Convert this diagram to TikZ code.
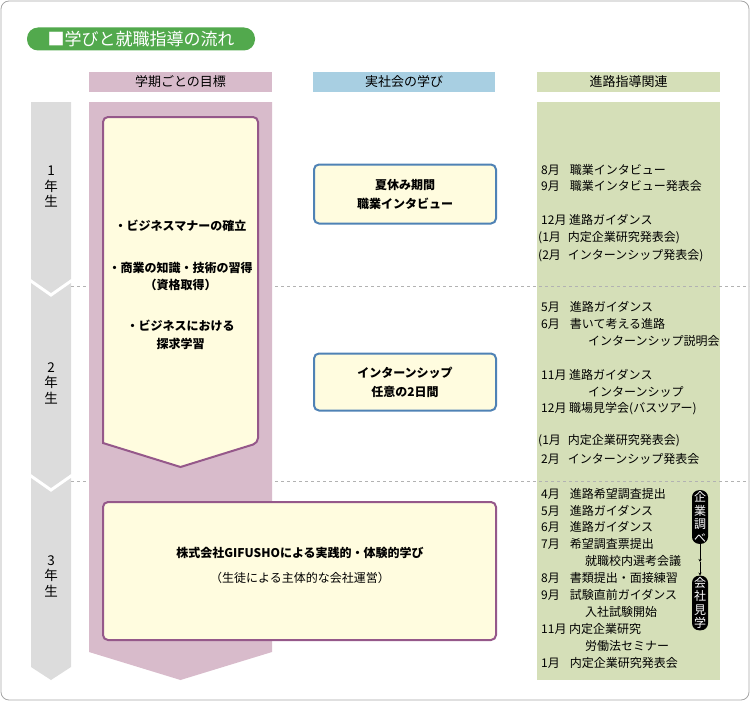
\documentclass[tikz,border=0pt]{standalone}
\usepackage{fontspec}
\setmainfont{Noto Sans CJK JP}
\usetikzlibrary{arrows.meta}
\definecolor{ttl}{HTML}{52A94D}
\definecolor{pinkc}{HTML}{D8BBCB}
\definecolor{bluec}{HTML}{A8CFE2}
\definecolor{greenc}{HTML}{D5DFB8}
\definecolor{grayc}{HTML}{DCDCDC}
\definecolor{boxf}{HTML}{FFFCDF}
\definecolor{purb}{HTML}{95588A}
\definecolor{blub}{HTML}{4F82B5}
\tikzset{
  hdr/.style={font=\fontsize{13}{15}\selectfont},
  yr/.style={font=\fontsize{13.5}{15.5}\selectfont},
  rt/.style={anchor=west,font=\fontsize{12}{14}\selectfont,inner sep=0pt},
  bx/.style={font=\bfseries\fontsize{12}{17}\selectfont,align=center},
  pill/.style={fill=black,text=white,rounded corners=7pt,inner sep=1.5pt,text width=13pt,font=\fontsize{12}{13.5}\selectfont,align=center}
}
\begin{document}
\begin{tikzpicture}[x=1pt,y=-1pt]
\useasboundingbox (0,0) rectangle (750,701);
\draw[gray!70,rounded corners=8pt,line width=0.8pt] (1,1) rectangle (749,700);
% title
\node[fill=ttl,rounded corners=11pt,minimum width=228,minimum height=23,text=white,font=\fontsize{17}{19}\selectfont,inner sep=0pt] (title) at (141,39) {■学びと就職指導の流れ};
% headers
\node[fill=pinkc,minimum width=183,minimum height=20,inner sep=0,hdr] (h1) at (180.5,82) {学期ごとの目標};
\node[fill=bluec,minimum width=182,minimum height=20,inner sep=0,hdr] (h2) at (404,82) {実社会の学び};
\node[fill=greenc,minimum width=183,minimum height=20,inner sep=0,hdr] (h3) at (628.5,82) {進路指導関連};
% gray year column
\fill[grayc] (31,102) -- (71,102) -- (71,279) -- (51,293) -- (31,279) -- cycle;
\fill[grayc] (31,283) -- (51,297) -- (71,283) -- (71,474) -- (51,488) -- (31,474) -- cycle;
\fill[grayc] (31,478) -- (51,492) -- (71,478) -- (71,667) -- (51,680) -- (31,667) -- cycle;
\node[yr,align=center,inner sep=0] (y1) at (51,187) {1\\年\\生};
\node[yr,align=center,inner sep=0] (y2) at (51,383) {2\\年\\生};
\node[yr,align=center,inner sep=0] (y3) at (51,576) {3\\年\\生};
% green column
\fill[greenc] (537,102) rectangle (720,680);
% dashed separators
\draw[gray!60,dashed,line width=0.5pt] (71,286) -- (749,286);
\draw[gray!60,dashed,line width=0.5pt] (71,481) -- (749,481);
% pink column
\fill[pinkc] (89,102) -- (272,102) -- (272,652) -- (180.5,680) -- (89,652) -- cycle;
% box 1
\draw[purb,fill=boxf,line width=2pt,rounded corners=5pt] (103,117) -- (258,117) -- (258,443) [sharp corners] -- (180.5,467) -- (103,443) [rounded corners=5pt] -- cycle;
\node[bx] (g1) at (180.5,226) {・ビジネスマナーの確立};
\node[bx,font=\bfseries\fontsize{12}{17}\selectfont] (g2) at (180.5,276) {・商業の知識・技術の習得\\（資格取得）};
\node[bx,font=\bfseries\fontsize{12}{18}\selectfont] (g3) at (180.5,335) {・ビジネスにおける\\探求学習};
% year 3 box
\draw[purb,fill=boxf,line width=2pt,rounded corners=5pt] (103,502) rectangle (496,640);
\node[bx,font=\bfseries\fontsize{12}{25}\selectfont] (g4) at (300,565) {株式会社GIFUSHOによる実践的・体験的学び\\\mdseries（生徒による主体的な会社運営）};
% middle boxes
\node[draw=blub,fill=boxf,line width=2pt,rounded corners=5pt,minimum width=182,minimum height=59,bx,font=\bfseries\fontsize{12}{19}\selectfont] (m1) at (405,194) {夏休み期間\\職業インタビュー};
\node[draw=blub,fill=boxf,line width=2pt,rounded corners=5pt,minimum width=182,minimum height=57,bx,font=\bfseries\fontsize{12}{19}\selectfont] (m2) at (405,382) {インターンシップ\\任意の2日間};
% right column text
\node[rt] (r1) at (541,170) {8月\hspace{10pt}職業インタビュー};
\node[rt] (r2) at (541,186) {9月\hspace{10pt}職業インタビュー発表会};
\node[rt] (r3) at (541,220) {12月 進路ガイダンス};
\node[rt] (r4) at (538,238) {(1月\hspace{7pt}内定企業研究発表会)};
\node[rt] (r5) at (538,256) {(2月\hspace{7pt}インターンシップ発表会)};
\node[rt] (r6) at (541,307) {5月\hspace{10pt}進路ガイダンス};
\node[rt] (r7) at (541,324) {6月\hspace{10pt}書いて考える進路};
\node[rt] (r8) at (588,341) {インターンシップ説明会};
\node[rt] (r9) at (541,375) {11月 進路ガイダンス};
\node[rt] (r10) at (588,392) {インターンシップ};
\node[rt] (r11) at (541,409) {12月 職場見学会(バスツアー)};
\node[rt] (r12) at (538,441) {(1月\hspace{7pt}内定企業研究発表会)};
\node[rt] (r13) at (541,459) {2月\hspace{8pt}インターンシップ発表会};
\node[rt] (s1) at (541,494) {4月\hspace{10pt}進路希望調査提出};
\node[rt] (s2) at (541,511) {5月\hspace{10pt}進路ガイダンス};
\node[rt] (s3) at (541,527) {6月\hspace{10pt}進路ガイダンス};
\node[rt] (s4) at (541,544) {7月\hspace{10pt}希望調査票提出};
\node[rt] (s5) at (585,561) {就職校内選考会議};
\node[rt] (s6) at (541,578) {8月\hspace{10pt}書類提出・面接練習};
\node[rt] (s7) at (541,595) {9月\hspace{10pt}試験直前ガイダンス};
\node[rt] (s8) at (585,612) {入社試験開始};
\node[rt] (s9) at (541,629) {11月 内定企業研究};
\node[rt] (s10) at (585,646) {労働法セミナー};
\node[rt] (s11) at (541,663) {1月\hspace{10pt}内定企業研究発表会};
% pills
\node[pill] (p1) at (700,517) {企\\業\\調\\べ};
\node[pill] (p2) at (700,603) {会\\社\\見\\学};
\coordinate (pm) at (700,562);
\draw[-{Stealth[length=3pt,width=3pt]},line width=0.6pt] (p1.south) -- (pm);
\draw[-{Stealth[length=3pt,width=3pt]},line width=0.6pt] (pm) -- (p2.north);
\end{tikzpicture}
\end{document}
